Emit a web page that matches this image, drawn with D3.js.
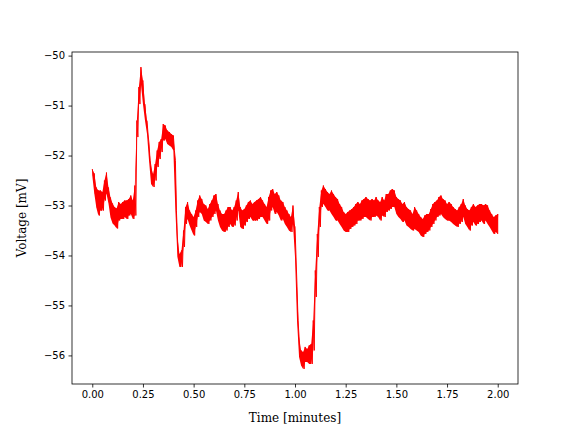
<!DOCTYPE html>
<html>
<head>
<meta charset="utf-8">
<script src="https://cdn.jsdelivr.net/npm/d3@7"></script>
<style>
  html, body { margin: 0; padding: 0; background: #fff; }
  svg { display: block; }
</style>
</head>
<body>
<svg id="chart" width="576" height="432"></svg>
<script>
// Sampling grid of the trace (minutes)
const timeStart = 0;
const timeStep = 0.01;
// Upper edge of the noisy voltage band, one value per sample (mV)
const voltageUpper = [
-52.27,-52.36,-52.64,-52.70,-52.70,-52.73,-52.50,-52.34,-52.64,-52.84,
-52.96,-53.03,-53.06,-52.93,-52.97,-52.93,-52.90,-52.90,-52.87,-52.80,
-52.90,-52.60,-51.30,-50.63,-50.23,-50.50,-50.97,-51.30,-51.77,-52.23,
-52.37,-52.17,-51.90,-51.73,-51.67,-51.37,-51.40,-51.50,-51.53,-51.57,
-51.60,-52.10,-53.63,-53.97,-53.90,-53.50,-53.03,-52.93,-53.10,-53.17,
-53.23,-53.10,-52.90,-52.80,-52.87,-52.97,-53.00,-53.07,-52.97,-52.90,
-52.80,-52.77,-52.97,-53.10,-53.17,-53.17,-53.10,-53.03,-53.03,-53.10,
-53.03,-52.90,-52.73,-53.03,-53.10,-53.07,-53.00,-52.93,-52.90,-52.97,
-52.93,-52.90,-52.87,-52.83,-52.90,-52.97,-53.03,-52.83,-52.70,-52.67,
-52.77,-52.73,-52.80,-52.90,-52.93,-53.03,-53.10,-53.17,-53.23,-53.00,
-53.43,-54.63,-55.63,-55.90,-55.93,-55.83,-55.87,-55.80,-55.77,-55.30,
-54.30,-53.57,-53.03,-52.70,-52.60,-52.67,-52.73,-52.77,-52.70,-52.77,
-52.83,-52.87,-52.97,-53.03,-53.13,-53.17,-53.13,-53.10,-53.07,-53.03,
-52.97,-52.93,-52.97,-52.90,-52.87,-52.83,-52.87,-52.90,-52.87,-52.90,
-52.83,-52.90,-52.93,-52.83,-52.90,-52.77,-52.77,-52.70,-52.67,-52.70,
-52.83,-52.87,-52.90,-52.97,-52.93,-53.03,-53.07,-53.10,-53.17,-53.03,
-53.10,-53.17,-53.23,-53.27,-53.20,-53.17,-53.17,-53.07,-52.97,-52.93,
-52.90,-52.83,-52.80,-52.87,-52.90,-52.97,-52.93,-52.97,-53.03,-53.07,
-53.10,-53.03,-52.97,-52.87,-53.00,-53.07,-53.10,-53.03,-52.97,-53.03,
-53.00,-52.97,-52.97,-53.00,-52.97,-53.00,-53.10,-53.17,-53.23,-53.20,
-53.17
];
// Lower edge of the noisy voltage band (mV)
const voltageLower = [
-52.40,-52.76,-53.04,-53.20,-53.10,-53.10,-52.90,-52.76,-52.96,-53.24,
-53.36,-53.40,-53.46,-53.30,-53.27,-53.27,-53.23,-53.27,-53.20,-53.17,
-53.27,-53.20,-51.63,-50.97,-50.57,-50.97,-51.30,-51.57,-52.10,-52.57,
-52.63,-52.50,-52.23,-52.07,-51.93,-51.70,-51.67,-51.77,-51.80,-51.83,
-51.90,-53.10,-54.03,-54.23,-54.23,-53.83,-53.37,-53.27,-53.40,-53.50,
-53.60,-53.43,-53.23,-53.13,-53.17,-53.30,-53.33,-53.37,-53.30,-53.23,
-53.17,-53.10,-53.30,-53.43,-53.50,-53.53,-53.50,-53.43,-53.37,-53.43,
-53.40,-53.30,-53.10,-53.43,-53.47,-53.40,-53.33,-53.27,-53.23,-53.30,
-53.30,-53.30,-53.27,-53.23,-53.23,-53.30,-53.37,-53.30,-53.10,-53.03,
-53.17,-53.13,-53.20,-53.30,-53.27,-53.37,-53.43,-53.50,-53.53,-53.37,
-54.03,-55.30,-56.03,-56.20,-56.27,-56.13,-56.13,-56.17,-56.17,-55.90,
-54.83,-54.03,-53.43,-53.03,-52.97,-53.03,-53.10,-53.10,-53.17,-53.23,
-53.30,-53.30,-53.37,-53.43,-53.50,-53.53,-53.53,-53.47,-53.43,-53.40,
-53.37,-53.30,-53.30,-53.27,-53.23,-53.23,-53.27,-53.30,-53.23,-53.23,
-53.20,-53.23,-53.30,-53.20,-53.23,-53.13,-53.10,-53.07,-53.03,-53.03,
-53.17,-53.23,-53.27,-53.33,-53.30,-53.40,-53.43,-53.47,-53.50,-53.47,
-53.50,-53.53,-53.60,-53.63,-53.57,-53.53,-53.50,-53.43,-53.37,-53.30,
-53.23,-53.20,-53.17,-53.23,-53.27,-53.30,-53.30,-53.33,-53.37,-53.40,
-53.43,-53.37,-53.33,-53.23,-53.37,-53.43,-53.50,-53.40,-53.33,-53.40,
-53.37,-53.33,-53.30,-53.37,-53.30,-53.37,-53.43,-53.50,-53.57,-53.53,
-53.57
];
const xTicks = [0, 0.25, 0.5, 0.75, 1.0, 1.25, 1.5, 1.75, 2.0];
const yTicks = [-56, -55, -54, -53, -52, -51, -50];
const xLabel = "Time [minutes]";
const yLabel = "Voltage [mV]";

const samples = voltageUpper.map((v, i) => ({ t: timeStart + i * timeStep, hi: v, lo: voltageLower[i] }));

// zig-zag trace through the band edges
const trace = [];
samples.forEach((s, i) => {
  trace.push([s.t, s.hi]);
  if (i < samples.length - 1) trace.push([s.t + timeStep / 2, s.lo]);
  else trace.push([s.t, s.lo]);
});

const W = 576, H = 432;
const m = { left: 72, right: 58, top: 52, bottom: 48 };
const iw = W - m.left - m.right, ih = H - m.top - m.bottom;

const tExt = d3.extent(samples, d => d.t);
const vExt = [d3.min(voltageLower), d3.max(voltageUpper)];
const tPad = (tExt[1] - tExt[0]) * 0.05, vPad = (vExt[1] - vExt[0]) * 0.05;

const x = d3.scaleLinear().domain([tExt[0] - tPad, tExt[1] + tPad]).range([m.left, m.left + iw]);
const y = d3.scaleLinear().domain([vExt[0] - vPad, vExt[1] + vPad]).range([m.top + ih, m.top]);

const svg = d3.select("#chart");
svg.append("rect").attr("width", W).attr("height", H).attr("fill", "#fff");

const fmtMinus = s => s.replace("-", "\u2212");

// solid noise band
svg.append("path")
  .datum(samples)
  .attr("fill", "#ff0000")
  .attr("stroke", "none")
  .attr("d", d3.area().x(d => x(d.t)).y0(d => y(d.lo)).y1(d => y(d.hi)));

// jagged trace
svg.append("path")
  .datum(trace)
  .attr("fill", "none")
  .attr("stroke", "#ff0000")
  .attr("stroke-width", 1)
  .attr("d", d3.line().x(d => x(d[0])).y(d => y(d[1])));

const xAxis = svg.append("g")
  .attr("transform", `translate(0,${m.top + ih})`)
  .call(d3.axisBottom(x).tickValues(xTicks).tickFormat(d3.format(".2f")).tickSizeOuter(0).tickSize(3.5).tickPadding(3.5));
const yAxis = svg.append("g")
  .attr("transform", `translate(${m.left},0)`)
  .call(d3.axisLeft(y).tickValues(yTicks).tickFormat(d => fmtMinus(d3.format("d")(d))).tickSizeOuter(0).tickSize(3.5).tickPadding(3.5));

[xAxis, yAxis].forEach(g => {
  g.select(".domain").remove();
  g.selectAll(".tick line").attr("stroke", "#000").attr("stroke-width", 0.8);
  g.selectAll(".tick text").attr("fill", "#000")
    .style("font-family", "'DejaVu Sans', sans-serif").style("font-size", "10px");
});

// frame
svg.append("rect")
  .attr("x", m.left).attr("y", m.top).attr("width", iw).attr("height", ih)
  .attr("fill", "none").attr("stroke", "#000").attr("stroke-width", 0.8);

svg.append("text")
  .attr("x", m.left + iw / 2).attr("y", 422)
  .attr("text-anchor", "middle")
  .style("font-family", "'DejaVu Serif', serif").style("font-size", "12px")
  .text(xLabel);

svg.append("text")
  .attr("transform", `translate(${26},${m.top + ih / 2}) rotate(-90)`)
  .attr("text-anchor", "middle")
  .style("font-family", "'DejaVu Serif', serif").style("font-size", "12px")
  .text(yLabel);
</script>
</body>
</html>
